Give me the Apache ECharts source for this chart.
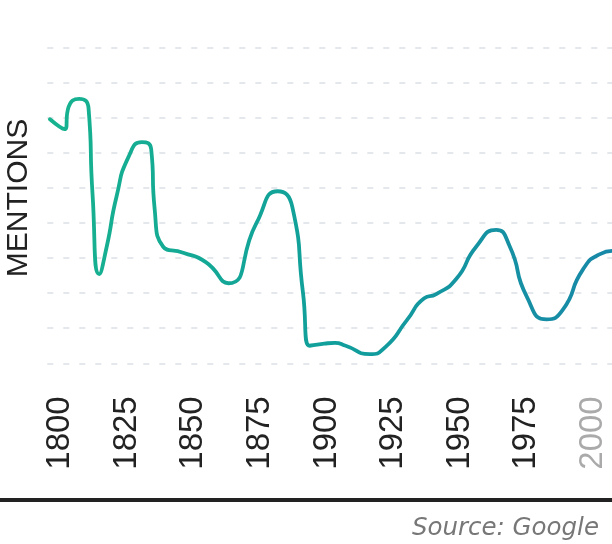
<!DOCTYPE html>
<html>
<head>
<meta charset="utf-8">
<script src="https://cdn.jsdelivr.net/npm/echarts@6/dist/echarts.min.js"></script>
<style>
  html, body { margin: 0; padding: 0; background: #fff; }
  #container { width: 612px; height: 544px; }
</style>
</head>
<body>
<div id="container"></div>
<script>
// years (uneven, the curve has sharp drops)
var years = [1800, 1805.5, 1807, 1811, 1814.5, 1816, 1818.5, 1821.3, 1825, 1829.5, 1834.5, 1838,
  1839.3, 1842.5, 1850, 1858.5, 1867, 1877.5, 1885.5, 1891, 1895, 1897.5, 1903, 1907,
  1911, 1920, 1926, 1934, 1940.5, 1945, 1952.5, 1960, 1967.5, 1972.5, 1979, 1986.5,
  1992.5, 2000, 2006.5, 2011];
// mentions, in grid-line units (no scale shown on the chart)
var mentions = [6.95, 6.67, 7.3, 7.53, 7.25, 4.8, 2.54, 3.32, 4.75, 5.88, 6.3, 6.1,
  4.4, 3.32, 3.15, 2.88, 2.28, 3.99, 4.9, 4.45, 2.0, 0.5, 0.56, 0.58,
  0.5, 0.26, 0.47, 1.23, 1.85, 1.97, 2.4, 3.32, 3.8, 3.35, 1.9, 1.25,
  1.52, 2.66, 3.11, 3.2];
var tickYears = [1800, 1825, 1850, 1875, 1900, 1925, 1950, 1975, 2000];
var greyYears = [2000];

var points = years.map(function (y, i) { return [y, mentions[i]]; });

// the year labels sit a little right of their ticks in the original,
// so they get their own axis shifted by a few years
var labelShift = 3.8;

var chart = echarts.init(document.getElementById('container'));
chart.setOption({
  animation: false,
  grid: { left: 47.3, right: 0, top: 47.3, bottom: 180.7, containLabel: false },
  xAxis: [{
    type: 'value',
    min: 1799,
    max: 2011,
    axisLine: { show: false },
    axisTick: { show: false },
    splitLine: { show: false },
    axisLabel: { show: false }
  }, {
    type: 'value',
    position: 'bottom',
    min: 1799 - labelShift,
    max: 2011 - labelShift,
    axisLine: { show: false },
    axisTick: { show: false },
    splitLine: { show: false },
    axisLabel: {
      customValues: tickYears,
      rotate: 90,
      margin: 33,
      fontFamily: 'Liberation Sans',
      fontSize: 33,
      color: function (val) {
        return greyYears.indexOf(Number(val)) > -1 ? '#aaaaaa' : '#222222';
      },
      formatter: function (v) { return String(v); }
    }
  }],
  yAxis: {
    type: 'value',
    min: 0,
    max: 9,
    interval: 1,
    axisLine: { show: false },
    axisTick: { show: false },
    axisLabel: { show: false },
    splitLine: { lineStyle: { color: '#e4e7ec', width: 2, type: [6, 10] } }
  },
  series: [{
    type: 'line',
    xAxisIndex: 0,
    data: points,
    showSymbol: false,
    smooth: 0.6,
    clip: true,
    lineStyle: {
      width: 3.8,
      cap: 'round',
      join: 'round',
      color: new echarts.graphic.LinearGradient(0, 0, 1, 0, [
        { offset: 0, color: '#17b38f' },
        { offset: 0.5, color: '#119f9b' },
        { offset: 1, color: '#1888a8' }
      ])
    }
  }],
  graphic: [
    {
      type: 'text',
      x: 19.2, y: 198,
      rotation: Math.PI / 2,
      style: {
        text: 'MENTIONS',
        fontFamily: 'Liberation Sans',
        fontSize: 30,
        fill: '#222222',
        align: 'center',
        verticalAlign: 'middle'
      }
    },
    {
      type: 'rect',
      shape: { x: 0, y: 498, width: 612, height: 4 },
      style: { fill: '#222222' }
    },
    {
      type: 'text',
      x: 599, y: 529,
      style: {
        text: 'Source: Google',
        fontFamily: 'DejaVu Sans',
        fontStyle: 'italic',
        fontSize: 24.5,
        fill: '#777777',
        align: 'right',
        verticalAlign: 'middle'
      }
    }
  ]
});
</script>
</body>
</html>
